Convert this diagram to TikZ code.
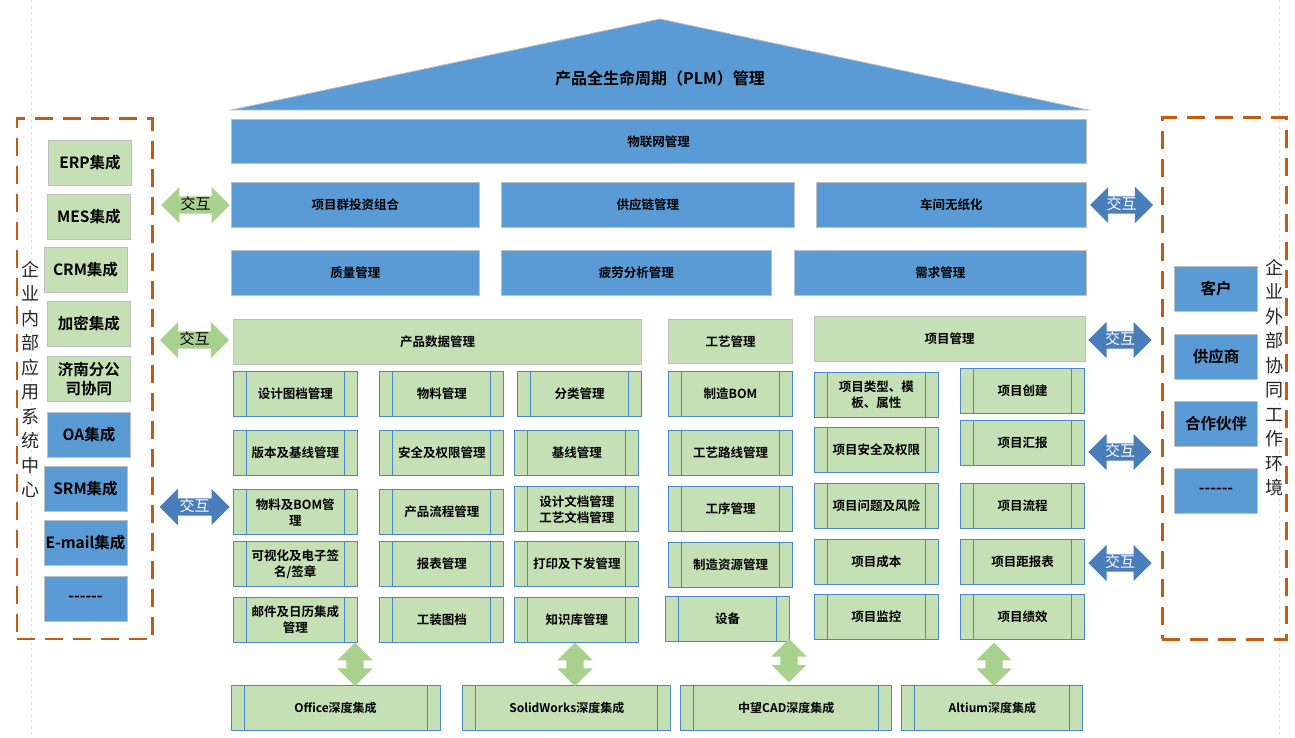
\documentclass[tikz,border=0pt]{standalone}
\usepackage{fontspec}
\setmainfont{Noto Sans CJK SC}[BoldFont={Noto Sans CJK SC Bold}]
\usepackage{tikz}
\usetikzlibrary{shapes.arrows}
\definecolor{pblue}{HTML}{5B9BD5}
\definecolor{pgreen}{HTML}{C5E0B4}
\definecolor{agreen}{HTML}{A9D18E}
\definecolor{ablue}{HTML}{4A7EBB}
\definecolor{lblue}{HTML}{4A86C8}
\definecolor{dorange}{HTML}{C55A11}
\definecolor{bgray}{HTML}{BFBFBF}
\newcommand{\moredots}{-{}-{}-{}-{}-{}-}
\tikzstyle{bluebox} = [rectangle, draw=bgray, line width=0.8pt, fill=pblue, minimum height=44.6pt, inner sep=0pt, align=center, font=\bfseries\fontsize{12.5}{16}\selectfont]
\tikzstyle{greenbox} = [bluebox, fill=pgreen]
\tikzstyle{subbox} = [greenbox, draw=lblue, line width=1pt, minimum width=124pt, path picture={\draw[lblue, line width=1pt] ([xshift=13pt]path picture bounding box.north west) -- ([xshift=13pt]path picture bounding box.south west) ([xshift=-13pt]path picture bounding box.north east) -- ([xshift=-13pt]path picture bounding box.south east);}]
\tikzstyle{botbox} = [subbox, font=\bfseries\fontsize{12}{14}\selectfont]
\tikzstyle{sidebox} = [greenbox, minimum width=83pt, font=\bfseries\fontsize{15.5}{19}\selectfont]
\tikzstyle{panel} = [rectangle, draw=dorange, line width=2.5pt, dash pattern=on 18pt off 10pt]
\tikzstyle{vtext} = [align=center, inner sep=0pt, text=black!85, font=\fontsize{18}{24.5}\selectfont]
\tikzstyle{darrow} = [double arrow, double arrow head extend=9.5pt, inner sep=1.5pt, text height=11pt, text depth=3pt, font=\fontsize{15}{15}\selectfont]
\tikzstyle{garrow} = [darrow, fill=agreen]
\tikzstyle{barrow} = [darrow, fill=ablue, text=white]
\tikzstyle{varrow} = [double arrow, double arrow head extend=9pt, fill=agreen, inner sep=0pt, text height=17pt, text depth=0pt, minimum height=43.5pt, rotate=90]
\tikzstyle{guide} = [draw=gray!25, line width=0.6pt, dashed]

\begin{document}
\begin{tikzpicture}[x=1pt, y=-1pt]
\useasboundingbox (0,0) rectangle (1295,737);

% page guides
\draw[guide] (31.5,0) -- (31.5,737);
\draw[guide] (1279,0) -- (1279,737);

% roof
\coordinate (roofl) at (231,110);
\coordinate (rooft) at (660,19);
\coordinate (roofr) at (1088,110);
\filldraw[fill=pblue, draw=bgray, line width=0.8pt] (roofl) -- (rooft) -- (roofr) -- cycle;
\node (plm) at (660,78) [font=\bfseries\fontsize{16}{16}\selectfont] {产品全生命周期（PLM）管理};

\node (iot) at (658.5,141.5) [bluebox, minimum width=855pt] {物联网管理};

\node (r1a) at (355.3,205) [bluebox, minimum width=247.3pt] {项目群投资组合};
\node (r1b) at (647.8,205) [bluebox, minimum width=292.3pt] {供应链管理};
\node (r1c) at (951.3,205) [bluebox, minimum width=269.3pt] {车间无纸化};
\node (r2a) at (355.3,273) [bluebox, minimum width=247.3pt] {质量管理};
\node (r2b) at (636.3,273) [bluebox, minimum width=269.3pt] {疲劳分析管理};
\node (r2c) at (940.3,273) [bluebox, minimum width=291.3pt] {需求管理};

\node (pdm) at (437.5,342) [greenbox, minimum width=408.4pt] {产品数据管理};
\node (proc) at (730.5,341.5) [greenbox, minimum width=124.4pt] {工艺管理};
\node (pm) at (949.5,338.8) [greenbox, minimum width=271pt] {项目管理};

% product data
\node (sA1) at (295.3,394) [subbox] {设计图档管理};
\node (sA2) at (295.3,452.8) [subbox] {版本及基线管理};
\node (sA3) at (295.3,512) [subbox] {物料及BOM管\\理};
\node (sA4) at (295.3,564) [subbox] {可视化及电子签\\名/签章};
\node (sA5) at (295.3,620) [subbox] {邮件及日历集成\\管理};
\node (sB1) at (441.8,394) [subbox] {物料管理};
\node (sB2) at (441.8,452.8) [subbox] {安全及权限管理};
\node (sB3) at (441.8,512) [subbox] {产品流程管理};
\node (sB4) at (441.8,564) [subbox] {报表管理};
\node (sB5) at (441.8,620) [subbox] {工装图档};
\node (sC1) at (579.5,394) [subbox] {分类管理};
\node (sC2) at (576.8,452.8) [subbox] {基线管理};
\node (sC3) at (576.8,509.2) [subbox] {设计文档管理\\工艺文档管理};
\node (sC4) at (576.8,564) [subbox] {打印及下发管理};
\node (sC5) at (576.8,620) [subbox] {知识库管理};

% process
\node (sD1) at (730.5,394) [subbox] {制造BOM};
\node (sD2) at (730.5,453) [subbox] {工艺路线管理};
\node (sD3) at (730.5,509) [subbox] {工序管理};
\node (sD4) at (730.5,565) [subbox] {制造资源管理};
\node (sD5) at (727.5,619) [subbox] {设备};

% project
\node (sE1) at (876.3,395) [subbox] {项目类型、模\\板、属性};
\node (sE2) at (876.3,450) [subbox] {项目安全及权限};
\node (sE3) at (876.3,506) [subbox] {项目问题及风险};
\node (sE4) at (876.3,561.7) [subbox] {项目成本};
\node (sE5) at (876.3,617) [subbox] {项目监控};
\node (sF1) at (1022.5,391) [subbox] {项目创建};
\node (sF2) at (1022.5,443) [subbox] {项目汇报};
\node (sF3) at (1022.5,505.8) [subbox] {项目流程};
\node (sF4) at (1022.5,561.8) [subbox] {项目距报表};
\node (sF5) at (1022.5,617) [subbox] {项目绩效};

% integrations
\node (office) at (335.5,707.7) [botbox, minimum width=209pt] {Office深度集成};
\node (sw) at (566.8,707.7) [botbox, minimum width=208.3pt] {SolidWorks深度集成};
\node (zw) at (786.3,707.7) [botbox, minimum width=210.7pt] {中望CAD深度集成};
\node (alt) at (992.3,707.7) [botbox, minimum width=181.3pt] {Altium深度集成};
\node (va1) at (355,664.3) [varrow] {};
\node (va2) at (575,664.3) [varrow] {};
\node (va3) at (789,660.7) [varrow] {};
\node (va4) at (994,664.3) [varrow] {};

% internal systems
\node (inner) at (84.85,378.65) [panel, minimum width=135.7pt, minimum height=520.7pt] {};
\node (intext) at (30.5,379.5) [vtext] {企\\业\\内\\部\\应\\用\\系\\统\\中\\心};
\node (erp) at (90,163) [sidebox] {ERP集成};
\node (mes) at (88.8,216.8) [sidebox] {MES集成};
\node (crm) at (85.5,269.8) [sidebox] {CRM集成};
\node (jm) at (88.8,323.8) [sidebox] {加密集成};
\node (jn) at (88.8,378.7) [sidebox] {济南分公\\司协同};
\node (oa) at (89,435) [sidebox, fill=pblue] {OA集成};
\node (srm) at (85.5,489) [sidebox, fill=pblue] {SRM集成};
\node (mail) at (85.5,543) [sidebox, fill=pblue] {E-mail集成};
\node (more) at (85.5,599) [sidebox, fill=pblue] {\moredots};

% external partners
\node (outer) at (1224.5,378.5) [panel, minimum width=124.4pt, minimum height=521.6pt] {};
\node (outtext) at (1274,377.5) [vtext] {企\\业\\外\\部\\协\\同\\工\\作\\环\\境};
\node (kh) at (1216,289) [sidebox, fill=pblue] {客户};
\node (gys) at (1216,357) [sidebox, fill=pblue] {供应商};
\node (hz) at (1216,424) [sidebox, fill=pblue] {合作伙伴};
\node (more2) at (1216,491) [sidebox, fill=pblue] {\moredots};

% interaction arrows
\node (la1) at (195.5,205) [garrow, minimum height=68.5pt] {交互};
\node (la2) at (194.5,340) [garrow, minimum height=69pt] {交互};
\node (la3) at (194.7,507) [barrow, minimum height=70pt] {交互};
\node (ra1) at (1121.5,205) [barrow, minimum height=63pt] {交互};
\node (ra2) at (1120,340) [barrow, minimum height=63.4pt] {交互};
\node (ra3) at (1120,452) [barrow, minimum height=63.4pt] {交互};
\node (ra4) at (1120,563) [barrow, minimum height=63.4pt] {交互};
\end{tikzpicture}
\end{document}
